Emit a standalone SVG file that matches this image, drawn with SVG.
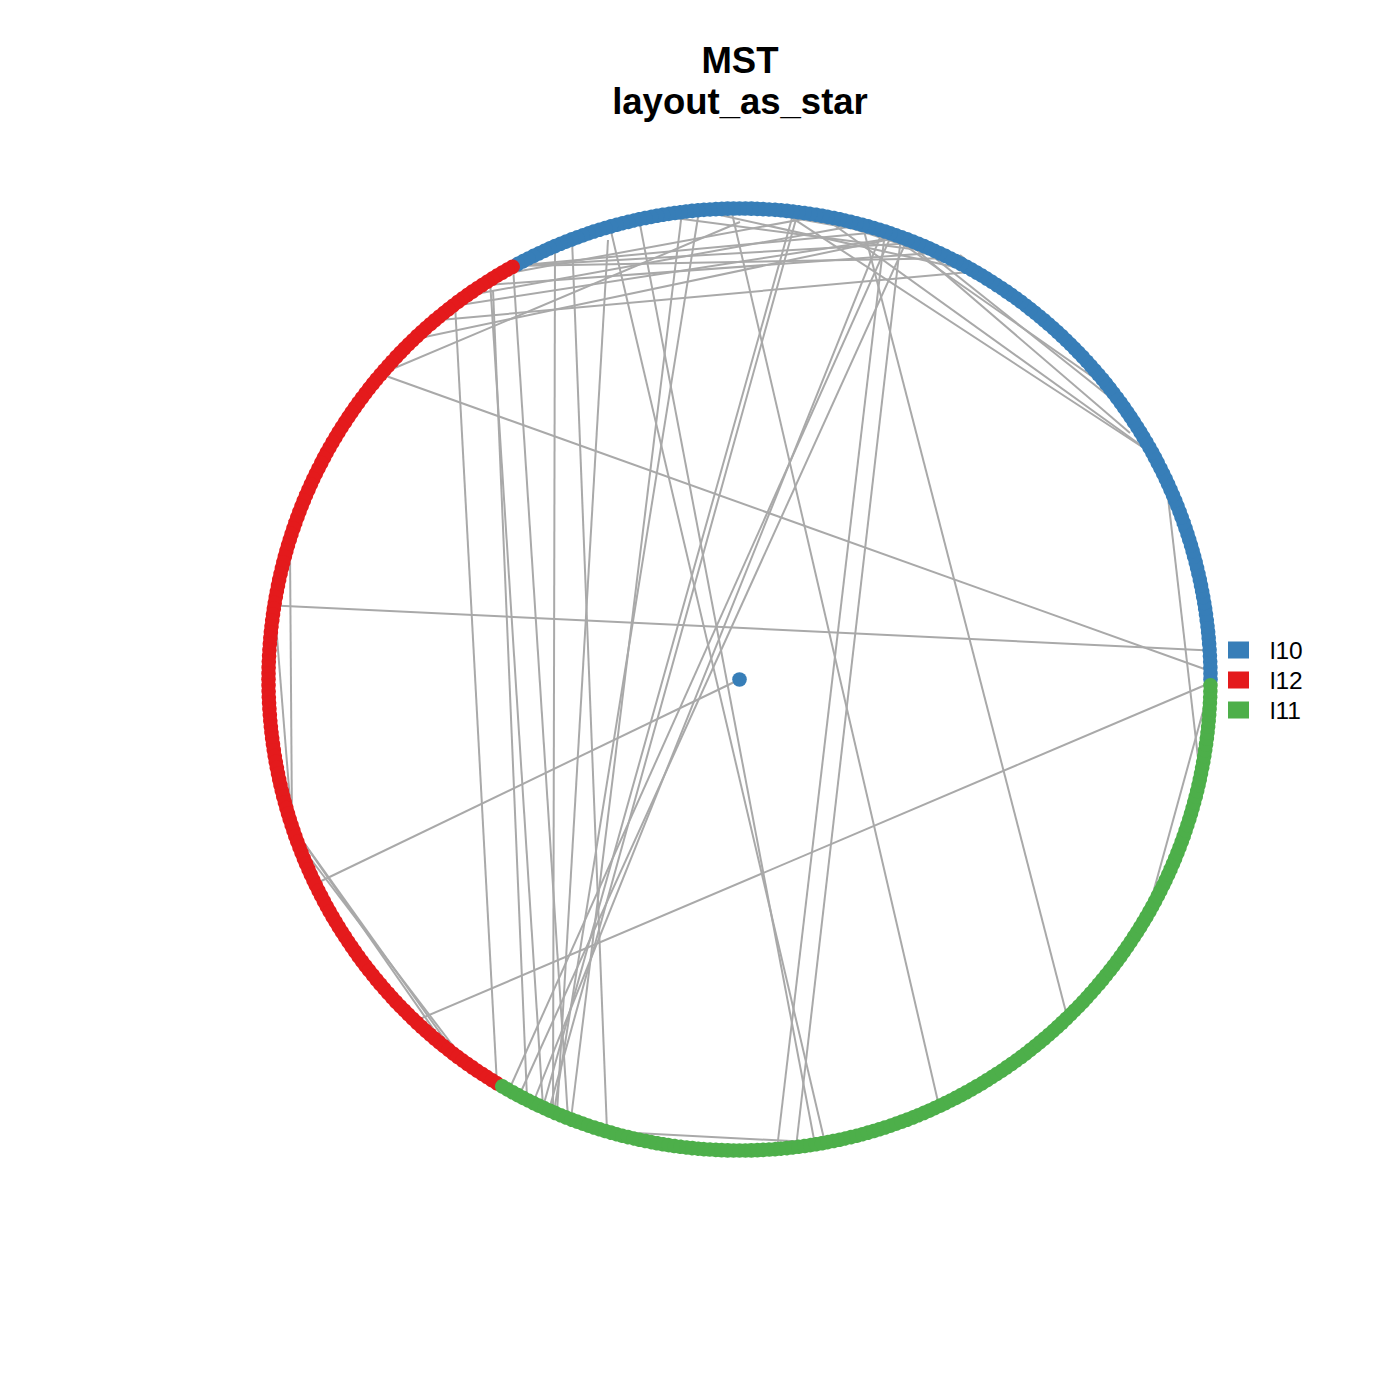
<svg xmlns="http://www.w3.org/2000/svg" xmlns:xlink="http://www.w3.org/1999/xlink" width="1400" height="1400" viewBox="0 0 1400 1400">
<style>
.t{font-family:"Liberation Sans",Arial,sans-serif;font-weight:bold;font-size:36.5px;fill:#000;text-anchor:middle}
.l{font-family:"Liberation Sans",Arial,sans-serif;font-size:24.5px;fill:#000}
#edges line{stroke:#A9A9A9;stroke-width:2;fill:none}
</style>
<defs>
<circle id="B" cx="471" cy="0" r="7.3" fill="#377EB8"/>
<circle id="R" cx="471" cy="0" r="7.3" fill="#E41A1C"/>
<circle id="G" cx="471" cy="0" r="7.3" fill="#4DAF4A"/>
</defs>
<rect width="1400" height="1400" fill="#fff"/>
<text class="t" x="740" y="73">MST</text>
<text class="t" x="740" y="114">layout_as_star</text>
<g id="edges">
<line x1="739.5" y1="679.5" x2="315" y2="884"/>
<line x1="1210" y1="683" x2="415" y2="1021"/>
<line x1="380.5" y1="374" x2="1210" y2="671"/>
<line x1="274.5" y1="605.5" x2="1209.5" y2="650.5"/>
<line x1="1166" y1="480" x2="1200" y2="775"/>
<line x1="1210" y1="686" x2="1147" y2="915"/>
<line x1="731" y1="209" x2="939" y2="1106"/>
<line x1="863" y1="227" x2="1067.5" y2="1018"/>
<line x1="885" y1="232" x2="777" y2="1149"/>
<line x1="901" y1="237" x2="796" y2="1147.5"/>
<line x1="639" y1="219" x2="815" y2="1144.5"/>
<line x1="610" y1="227" x2="825" y2="1143"/>
<line x1="455" y1="304" x2="497" y2="1085"/>
<line x1="607" y1="1131.6" x2="824.5" y2="1142.8"/>
<line x1="572" y1="239" x2="607" y2="1131"/>
<line x1="274.5" y1="605.5" x2="292" y2="826"/>
<line x1="290" y1="550" x2="292" y2="826"/>
<line x1="304" y1="500" x2="274.5" y2="605.5"/>
<line x1="292" y1="826" x2="458" y2="1058"/>
<line x1="292" y1="826" x2="448" y2="1050"/>
<line x1="300" y1="845" x2="466" y2="1063"/>
<line x1="907" y1="240" x2="519" y2="1096"/>
<line x1="892" y1="234" x2="509" y2="1090"/>
<line x1="883" y1="230" x2="533" y2="1103"/>
<line x1="794" y1="211" x2="543" y2="1107"/>
<line x1="798" y1="212" x2="549" y2="1110"/>
<line x1="699" y1="211" x2="554" y2="1112"/>
<line x1="682" y1="212" x2="571" y2="1119"/>
<line x1="490" y1="280" x2="543" y2="1107"/>
<line x1="493" y1="290" x2="527" y2="1098"/>
<line x1="513" y1="266" x2="568" y2="1118"/>
<line x1="608" y1="240" x2="557" y2="1113"/>
<line x1="555" y1="250" x2="553" y2="1111"/>
<line x1="780.6" y1="210.3" x2="1153" y2="454"/>
<line x1="821.3" y1="215.7" x2="1153" y2="454"/>
<line x1="905" y1="240" x2="1130" y2="433"/>
<line x1="960" y1="255" x2="1100" y2="370"/>
<line x1="513" y1="266" x2="960" y2="258"/>
<line x1="460" y1="305" x2="900" y2="237"/>
<line x1="380.5" y1="374" x2="740" y2="222"/>
<line x1="513" y1="266" x2="885" y2="231.5"/>
<line x1="513" y1="266" x2="916" y2="243"/>
<line x1="499" y1="275" x2="821.3" y2="215.7"/>
<line x1="487" y1="285" x2="938.6" y2="252.6"/>
<line x1="470" y1="295" x2="861.4" y2="224.5"/>
<line x1="440" y1="320" x2="975" y2="271.6"/>
<line x1="420" y1="338" x2="900.6" y2="236.9"/>
<line x1="885" y1="231.5" x2="1110.7" y2="389.5"/>
<line x1="916" y1="243" x2="1125.3" y2="409.3"/>
<line x1="657.7" y1="215.7" x2="938.6" y2="252.6"/>
<line x1="698.4" y1="210.3" x2="975" y2="271.6"/>
<line x1="739.5" y1="208.5" x2="900.6" y2="236.9"/>
<line x1="805" y1="213" x2="960.6" y2="263.6"/>
</g>
<g id="nodes" transform="translate(739.5 679.5)">
<g id="v0"><circle cx="0" cy="0" r="7.3" fill="#377EB8"/></g>
<g id="v1"><use href="#B"/></g>
<g id="v2" transform="rotate(-0.72)"><use href="#B"/></g>
<g id="v3" transform="rotate(-1.44)"><use href="#B"/></g>
<g id="v4" transform="rotate(-2.16)"><use href="#B"/></g>
<g id="v5" transform="rotate(-2.88)"><use href="#B"/></g>
<g id="v6" transform="rotate(-3.6)"><use href="#B"/></g>
<g id="v7" transform="rotate(-4.32)"><use href="#B"/></g>
<g id="v8" transform="rotate(-5.04)"><use href="#B"/></g>
<g id="v9" transform="rotate(-5.76)"><use href="#B"/></g>
<g id="v10" transform="rotate(-6.48)"><use href="#B"/></g>
<g id="v11" transform="rotate(-7.2)"><use href="#B"/></g>
<g id="v12" transform="rotate(-7.92)"><use href="#B"/></g>
<g id="v13" transform="rotate(-8.64)"><use href="#B"/></g>
<g id="v14" transform="rotate(-9.36)"><use href="#B"/></g>
<g id="v15" transform="rotate(-10.08)"><use href="#B"/></g>
<g id="v16" transform="rotate(-10.8)"><use href="#B"/></g>
<g id="v17" transform="rotate(-11.52)"><use href="#B"/></g>
<g id="v18" transform="rotate(-12.24)"><use href="#B"/></g>
<g id="v19" transform="rotate(-12.96)"><use href="#B"/></g>
<g id="v20" transform="rotate(-13.68)"><use href="#B"/></g>
<g id="v21" transform="rotate(-14.4)"><use href="#B"/></g>
<g id="v22" transform="rotate(-15.12)"><use href="#B"/></g>
<g id="v23" transform="rotate(-15.84)"><use href="#B"/></g>
<g id="v24" transform="rotate(-16.56)"><use href="#B"/></g>
<g id="v25" transform="rotate(-17.28)"><use href="#B"/></g>
<g id="v26" transform="rotate(-18)"><use href="#B"/></g>
<g id="v27" transform="rotate(-18.72)"><use href="#B"/></g>
<g id="v28" transform="rotate(-19.44)"><use href="#B"/></g>
<g id="v29" transform="rotate(-20.16)"><use href="#B"/></g>
<g id="v30" transform="rotate(-20.88)"><use href="#B"/></g>
<g id="v31" transform="rotate(-21.6)"><use href="#B"/></g>
<g id="v32" transform="rotate(-22.32)"><use href="#B"/></g>
<g id="v33" transform="rotate(-23.04)"><use href="#B"/></g>
<g id="v34" transform="rotate(-23.76)"><use href="#B"/></g>
<g id="v35" transform="rotate(-24.48)"><use href="#B"/></g>
<g id="v36" transform="rotate(-25.2)"><use href="#B"/></g>
<g id="v37" transform="rotate(-25.92)"><use href="#B"/></g>
<g id="v38" transform="rotate(-26.64)"><use href="#B"/></g>
<g id="v39" transform="rotate(-27.36)"><use href="#B"/></g>
<g id="v40" transform="rotate(-28.08)"><use href="#B"/></g>
<g id="v41" transform="rotate(-28.8)"><use href="#B"/></g>
<g id="v42" transform="rotate(-29.52)"><use href="#B"/></g>
<g id="v43" transform="rotate(-30.24)"><use href="#B"/></g>
<g id="v44" transform="rotate(-30.96)"><use href="#B"/></g>
<g id="v45" transform="rotate(-31.68)"><use href="#B"/></g>
<g id="v46" transform="rotate(-32.4)"><use href="#B"/></g>
<g id="v47" transform="rotate(-33.12)"><use href="#B"/></g>
<g id="v48" transform="rotate(-33.84)"><use href="#B"/></g>
<g id="v49" transform="rotate(-34.56)"><use href="#B"/></g>
<g id="v50" transform="rotate(-35.28)"><use href="#B"/></g>
<g id="v51" transform="rotate(-36)"><use href="#B"/></g>
<g id="v52" transform="rotate(-36.72)"><use href="#B"/></g>
<g id="v53" transform="rotate(-37.44)"><use href="#B"/></g>
<g id="v54" transform="rotate(-38.16)"><use href="#B"/></g>
<g id="v55" transform="rotate(-38.88)"><use href="#B"/></g>
<g id="v56" transform="rotate(-39.6)"><use href="#B"/></g>
<g id="v57" transform="rotate(-40.32)"><use href="#B"/></g>
<g id="v58" transform="rotate(-41.04)"><use href="#B"/></g>
<g id="v59" transform="rotate(-41.76)"><use href="#B"/></g>
<g id="v60" transform="rotate(-42.48)"><use href="#B"/></g>
<g id="v61" transform="rotate(-43.2)"><use href="#B"/></g>
<g id="v62" transform="rotate(-43.92)"><use href="#B"/></g>
<g id="v63" transform="rotate(-44.64)"><use href="#B"/></g>
<g id="v64" transform="rotate(-45.36)"><use href="#B"/></g>
<g id="v65" transform="rotate(-46.08)"><use href="#B"/></g>
<g id="v66" transform="rotate(-46.8)"><use href="#B"/></g>
<g id="v67" transform="rotate(-47.52)"><use href="#B"/></g>
<g id="v68" transform="rotate(-48.24)"><use href="#B"/></g>
<g id="v69" transform="rotate(-48.96)"><use href="#B"/></g>
<g id="v70" transform="rotate(-49.68)"><use href="#B"/></g>
<g id="v71" transform="rotate(-50.4)"><use href="#B"/></g>
<g id="v72" transform="rotate(-51.12)"><use href="#B"/></g>
<g id="v73" transform="rotate(-51.84)"><use href="#B"/></g>
<g id="v74" transform="rotate(-52.56)"><use href="#B"/></g>
<g id="v75" transform="rotate(-53.28)"><use href="#B"/></g>
<g id="v76" transform="rotate(-54)"><use href="#B"/></g>
<g id="v77" transform="rotate(-54.72)"><use href="#B"/></g>
<g id="v78" transform="rotate(-55.44)"><use href="#B"/></g>
<g id="v79" transform="rotate(-56.16)"><use href="#B"/></g>
<g id="v80" transform="rotate(-56.88)"><use href="#B"/></g>
<g id="v81" transform="rotate(-57.6)"><use href="#B"/></g>
<g id="v82" transform="rotate(-58.32)"><use href="#B"/></g>
<g id="v83" transform="rotate(-59.04)"><use href="#B"/></g>
<g id="v84" transform="rotate(-59.76)"><use href="#B"/></g>
<g id="v85" transform="rotate(-60.48)"><use href="#B"/></g>
<g id="v86" transform="rotate(-61.2)"><use href="#B"/></g>
<g id="v87" transform="rotate(-61.92)"><use href="#B"/></g>
<g id="v88" transform="rotate(-62.64)"><use href="#B"/></g>
<g id="v89" transform="rotate(-63.36)"><use href="#B"/></g>
<g id="v90" transform="rotate(-64.08)"><use href="#B"/></g>
<g id="v91" transform="rotate(-64.8)"><use href="#B"/></g>
<g id="v92" transform="rotate(-65.52)"><use href="#B"/></g>
<g id="v93" transform="rotate(-66.24)"><use href="#B"/></g>
<g id="v94" transform="rotate(-66.96)"><use href="#B"/></g>
<g id="v95" transform="rotate(-67.68)"><use href="#B"/></g>
<g id="v96" transform="rotate(-68.4)"><use href="#B"/></g>
<g id="v97" transform="rotate(-69.12)"><use href="#B"/></g>
<g id="v98" transform="rotate(-69.84)"><use href="#B"/></g>
<g id="v99" transform="rotate(-70.56)"><use href="#B"/></g>
<g id="v100" transform="rotate(-71.28)"><use href="#B"/></g>
<g id="v101" transform="rotate(-72)"><use href="#B"/></g>
<g id="v102" transform="rotate(-72.72)"><use href="#B"/></g>
<g id="v103" transform="rotate(-73.44)"><use href="#B"/></g>
<g id="v104" transform="rotate(-74.16)"><use href="#B"/></g>
<g id="v105" transform="rotate(-74.88)"><use href="#B"/></g>
<g id="v106" transform="rotate(-75.6)"><use href="#B"/></g>
<g id="v107" transform="rotate(-76.32)"><use href="#B"/></g>
<g id="v108" transform="rotate(-77.04)"><use href="#B"/></g>
<g id="v109" transform="rotate(-77.76)"><use href="#B"/></g>
<g id="v110" transform="rotate(-78.48)"><use href="#B"/></g>
<g id="v111" transform="rotate(-79.2)"><use href="#B"/></g>
<g id="v112" transform="rotate(-79.92)"><use href="#B"/></g>
<g id="v113" transform="rotate(-80.64)"><use href="#B"/></g>
<g id="v114" transform="rotate(-81.36)"><use href="#B"/></g>
<g id="v115" transform="rotate(-82.08)"><use href="#B"/></g>
<g id="v116" transform="rotate(-82.8)"><use href="#B"/></g>
<g id="v117" transform="rotate(-83.52)"><use href="#B"/></g>
<g id="v118" transform="rotate(-84.24)"><use href="#B"/></g>
<g id="v119" transform="rotate(-84.96)"><use href="#B"/></g>
<g id="v120" transform="rotate(-85.68)"><use href="#B"/></g>
<g id="v121" transform="rotate(-86.4)"><use href="#B"/></g>
<g id="v122" transform="rotate(-87.12)"><use href="#B"/></g>
<g id="v123" transform="rotate(-87.84)"><use href="#B"/></g>
<g id="v124" transform="rotate(-88.56)"><use href="#B"/></g>
<g id="v125" transform="rotate(-89.28)"><use href="#B"/></g>
<g id="v126" transform="rotate(-90)"><use href="#B"/></g>
<g id="v127" transform="rotate(-90.72)"><use href="#B"/></g>
<g id="v128" transform="rotate(-91.44)"><use href="#B"/></g>
<g id="v129" transform="rotate(-92.16)"><use href="#B"/></g>
<g id="v130" transform="rotate(-92.88)"><use href="#B"/></g>
<g id="v131" transform="rotate(-93.6)"><use href="#B"/></g>
<g id="v132" transform="rotate(-94.32)"><use href="#B"/></g>
<g id="v133" transform="rotate(-95.04)"><use href="#B"/></g>
<g id="v134" transform="rotate(-95.76)"><use href="#B"/></g>
<g id="v135" transform="rotate(-96.48)"><use href="#B"/></g>
<g id="v136" transform="rotate(-97.2)"><use href="#B"/></g>
<g id="v137" transform="rotate(-97.92)"><use href="#B"/></g>
<g id="v138" transform="rotate(-98.64)"><use href="#B"/></g>
<g id="v139" transform="rotate(-99.36)"><use href="#B"/></g>
<g id="v140" transform="rotate(-100.08)"><use href="#B"/></g>
<g id="v141" transform="rotate(-100.8)"><use href="#B"/></g>
<g id="v142" transform="rotate(-101.52)"><use href="#B"/></g>
<g id="v143" transform="rotate(-102.24)"><use href="#B"/></g>
<g id="v144" transform="rotate(-102.96)"><use href="#B"/></g>
<g id="v145" transform="rotate(-103.68)"><use href="#B"/></g>
<g id="v146" transform="rotate(-104.4)"><use href="#B"/></g>
<g id="v147" transform="rotate(-105.12)"><use href="#B"/></g>
<g id="v148" transform="rotate(-105.84)"><use href="#B"/></g>
<g id="v149" transform="rotate(-106.56)"><use href="#B"/></g>
<g id="v150" transform="rotate(-107.28)"><use href="#B"/></g>
<g id="v151" transform="rotate(-108)"><use href="#B"/></g>
<g id="v152" transform="rotate(-108.72)"><use href="#B"/></g>
<g id="v153" transform="rotate(-109.44)"><use href="#B"/></g>
<g id="v154" transform="rotate(-110.16)"><use href="#B"/></g>
<g id="v155" transform="rotate(-110.88)"><use href="#B"/></g>
<g id="v156" transform="rotate(-111.6)"><use href="#B"/></g>
<g id="v157" transform="rotate(-112.32)"><use href="#B"/></g>
<g id="v158" transform="rotate(-113.04)"><use href="#B"/></g>
<g id="v159" transform="rotate(-113.76)"><use href="#B"/></g>
<g id="v160" transform="rotate(-114.48)"><use href="#B"/></g>
<g id="v161" transform="rotate(-115.2)"><use href="#B"/></g>
<g id="v162" transform="rotate(-115.92)"><use href="#B"/></g>
<g id="v163" transform="rotate(-116.64)"><use href="#B"/></g>
<g id="v164" transform="rotate(-117.36)"><use href="#B"/></g>
<g id="v165" transform="rotate(-118.08)"><use href="#B"/></g>
<g id="v166" transform="rotate(-118.8)"><use href="#R"/></g>
<g id="v167" transform="rotate(-119.52)"><use href="#R"/></g>
<g id="v168" transform="rotate(-120.24)"><use href="#R"/></g>
<g id="v169" transform="rotate(-120.96)"><use href="#R"/></g>
<g id="v170" transform="rotate(-121.68)"><use href="#R"/></g>
<g id="v171" transform="rotate(-122.4)"><use href="#R"/></g>
<g id="v172" transform="rotate(-123.12)"><use href="#R"/></g>
<g id="v173" transform="rotate(-123.84)"><use href="#R"/></g>
<g id="v174" transform="rotate(-124.56)"><use href="#R"/></g>
<g id="v175" transform="rotate(-125.28)"><use href="#R"/></g>
<g id="v176" transform="rotate(-126)"><use href="#R"/></g>
<g id="v177" transform="rotate(-126.72)"><use href="#R"/></g>
<g id="v178" transform="rotate(-127.44)"><use href="#R"/></g>
<g id="v179" transform="rotate(-128.16)"><use href="#R"/></g>
<g id="v180" transform="rotate(-128.88)"><use href="#R"/></g>
<g id="v181" transform="rotate(-129.6)"><use href="#R"/></g>
<g id="v182" transform="rotate(-130.32)"><use href="#R"/></g>
<g id="v183" transform="rotate(-131.04)"><use href="#R"/></g>
<g id="v184" transform="rotate(-131.76)"><use href="#R"/></g>
<g id="v185" transform="rotate(-132.48)"><use href="#R"/></g>
<g id="v186" transform="rotate(-133.2)"><use href="#R"/></g>
<g id="v187" transform="rotate(-133.92)"><use href="#R"/></g>
<g id="v188" transform="rotate(-134.64)"><use href="#R"/></g>
<g id="v189" transform="rotate(-135.36)"><use href="#R"/></g>
<g id="v190" transform="rotate(-136.08)"><use href="#R"/></g>
<g id="v191" transform="rotate(-136.8)"><use href="#R"/></g>
<g id="v192" transform="rotate(-137.52)"><use href="#R"/></g>
<g id="v193" transform="rotate(-138.24)"><use href="#R"/></g>
<g id="v194" transform="rotate(-138.96)"><use href="#R"/></g>
<g id="v195" transform="rotate(-139.68)"><use href="#R"/></g>
<g id="v196" transform="rotate(-140.4)"><use href="#R"/></g>
<g id="v197" transform="rotate(-141.12)"><use href="#R"/></g>
<g id="v198" transform="rotate(-141.84)"><use href="#R"/></g>
<g id="v199" transform="rotate(-142.56)"><use href="#R"/></g>
<g id="v200" transform="rotate(-143.28)"><use href="#R"/></g>
<g id="v201" transform="rotate(-144)"><use href="#R"/></g>
<g id="v202" transform="rotate(-144.72)"><use href="#R"/></g>
<g id="v203" transform="rotate(-145.44)"><use href="#R"/></g>
<g id="v204" transform="rotate(-146.16)"><use href="#R"/></g>
<g id="v205" transform="rotate(-146.88)"><use href="#R"/></g>
<g id="v206" transform="rotate(-147.6)"><use href="#R"/></g>
<g id="v207" transform="rotate(-148.32)"><use href="#R"/></g>
<g id="v208" transform="rotate(-149.04)"><use href="#R"/></g>
<g id="v209" transform="rotate(-149.76)"><use href="#R"/></g>
<g id="v210" transform="rotate(-150.48)"><use href="#R"/></g>
<g id="v211" transform="rotate(-151.2)"><use href="#R"/></g>
<g id="v212" transform="rotate(-151.92)"><use href="#R"/></g>
<g id="v213" transform="rotate(-152.64)"><use href="#R"/></g>
<g id="v214" transform="rotate(-153.36)"><use href="#R"/></g>
<g id="v215" transform="rotate(-154.08)"><use href="#R"/></g>
<g id="v216" transform="rotate(-154.8)"><use href="#R"/></g>
<g id="v217" transform="rotate(-155.52)"><use href="#R"/></g>
<g id="v218" transform="rotate(-156.24)"><use href="#R"/></g>
<g id="v219" transform="rotate(-156.96)"><use href="#R"/></g>
<g id="v220" transform="rotate(-157.68)"><use href="#R"/></g>
<g id="v221" transform="rotate(-158.4)"><use href="#R"/></g>
<g id="v222" transform="rotate(-159.12)"><use href="#R"/></g>
<g id="v223" transform="rotate(-159.84)"><use href="#R"/></g>
<g id="v224" transform="rotate(-160.56)"><use href="#R"/></g>
<g id="v225" transform="rotate(-161.28)"><use href="#R"/></g>
<g id="v226" transform="rotate(-162)"><use href="#R"/></g>
<g id="v227" transform="rotate(-162.72)"><use href="#R"/></g>
<g id="v228" transform="rotate(-163.44)"><use href="#R"/></g>
<g id="v229" transform="rotate(-164.16)"><use href="#R"/></g>
<g id="v230" transform="rotate(-164.88)"><use href="#R"/></g>
<g id="v231" transform="rotate(-165.6)"><use href="#R"/></g>
<g id="v232" transform="rotate(-166.32)"><use href="#R"/></g>
<g id="v233" transform="rotate(-167.04)"><use href="#R"/></g>
<g id="v234" transform="rotate(-167.76)"><use href="#R"/></g>
<g id="v235" transform="rotate(-168.48)"><use href="#R"/></g>
<g id="v236" transform="rotate(-169.2)"><use href="#R"/></g>
<g id="v237" transform="rotate(-169.92)"><use href="#R"/></g>
<g id="v238" transform="rotate(-170.64)"><use href="#R"/></g>
<g id="v239" transform="rotate(-171.36)"><use href="#R"/></g>
<g id="v240" transform="rotate(-172.08)"><use href="#R"/></g>
<g id="v241" transform="rotate(-172.8)"><use href="#R"/></g>
<g id="v242" transform="rotate(-173.52)"><use href="#R"/></g>
<g id="v243" transform="rotate(-174.24)"><use href="#R"/></g>
<g id="v244" transform="rotate(-174.96)"><use href="#R"/></g>
<g id="v245" transform="rotate(-175.68)"><use href="#R"/></g>
<g id="v246" transform="rotate(-176.4)"><use href="#R"/></g>
<g id="v247" transform="rotate(-177.12)"><use href="#R"/></g>
<g id="v248" transform="rotate(-177.84)"><use href="#R"/></g>
<g id="v249" transform="rotate(-178.56)"><use href="#R"/></g>
<g id="v250" transform="rotate(-179.28)"><use href="#R"/></g>
<g id="v251" transform="rotate(-180)"><use href="#R"/></g>
<g id="v252" transform="rotate(-180.72)"><use href="#R"/></g>
<g id="v253" transform="rotate(-181.44)"><use href="#R"/></g>
<g id="v254" transform="rotate(-182.16)"><use href="#R"/></g>
<g id="v255" transform="rotate(-182.88)"><use href="#R"/></g>
<g id="v256" transform="rotate(-183.6)"><use href="#R"/></g>
<g id="v257" transform="rotate(-184.32)"><use href="#R"/></g>
<g id="v258" transform="rotate(-185.04)"><use href="#R"/></g>
<g id="v259" transform="rotate(-185.76)"><use href="#R"/></g>
<g id="v260" transform="rotate(-186.48)"><use href="#R"/></g>
<g id="v261" transform="rotate(-187.2)"><use href="#R"/></g>
<g id="v262" transform="rotate(-187.92)"><use href="#R"/></g>
<g id="v263" transform="rotate(-188.64)"><use href="#R"/></g>
<g id="v264" transform="rotate(-189.36)"><use href="#R"/></g>
<g id="v265" transform="rotate(-190.08)"><use href="#R"/></g>
<g id="v266" transform="rotate(-190.8)"><use href="#R"/></g>
<g id="v267" transform="rotate(-191.52)"><use href="#R"/></g>
<g id="v268" transform="rotate(-192.24)"><use href="#R"/></g>
<g id="v269" transform="rotate(-192.96)"><use href="#R"/></g>
<g id="v270" transform="rotate(-193.68)"><use href="#R"/></g>
<g id="v271" transform="rotate(-194.4)"><use href="#R"/></g>
<g id="v272" transform="rotate(-195.12)"><use href="#R"/></g>
<g id="v273" transform="rotate(-195.84)"><use href="#R"/></g>
<g id="v274" transform="rotate(-196.56)"><use href="#R"/></g>
<g id="v275" transform="rotate(-197.28)"><use href="#R"/></g>
<g id="v276" transform="rotate(-198)"><use href="#R"/></g>
<g id="v277" transform="rotate(-198.72)"><use href="#R"/></g>
<g id="v278" transform="rotate(-199.44)"><use href="#R"/></g>
<g id="v279" transform="rotate(-200.16)"><use href="#R"/></g>
<g id="v280" transform="rotate(-200.88)"><use href="#R"/></g>
<g id="v281" transform="rotate(-201.6)"><use href="#R"/></g>
<g id="v282" transform="rotate(-202.32)"><use href="#R"/></g>
<g id="v283" transform="rotate(-203.04)"><use href="#R"/></g>
<g id="v284" transform="rotate(-203.76)"><use href="#R"/></g>
<g id="v285" transform="rotate(-204.48)"><use href="#R"/></g>
<g id="v286" transform="rotate(-205.2)"><use href="#R"/></g>
<g id="v287" transform="rotate(-205.92)"><use href="#R"/></g>
<g id="v288" transform="rotate(-206.64)"><use href="#R"/></g>
<g id="v289" transform="rotate(-207.36)"><use href="#R"/></g>
<g id="v290" transform="rotate(-208.08)"><use href="#R"/></g>
<g id="v291" transform="rotate(-208.8)"><use href="#R"/></g>
<g id="v292" transform="rotate(-209.52)"><use href="#R"/></g>
<g id="v293" transform="rotate(-210.24)"><use href="#R"/></g>
<g id="v294" transform="rotate(-210.96)"><use href="#R"/></g>
<g id="v295" transform="rotate(-211.68)"><use href="#R"/></g>
<g id="v296" transform="rotate(-212.4)"><use href="#R"/></g>
<g id="v297" transform="rotate(-213.12)"><use href="#R"/></g>
<g id="v298" transform="rotate(-213.84)"><use href="#R"/></g>
<g id="v299" transform="rotate(-214.56)"><use href="#R"/></g>
<g id="v300" transform="rotate(-215.28)"><use href="#R"/></g>
<g id="v301" transform="rotate(-216)"><use href="#R"/></g>
<g id="v302" transform="rotate(-216.72)"><use href="#R"/></g>
<g id="v303" transform="rotate(-217.44)"><use href="#R"/></g>
<g id="v304" transform="rotate(-218.16)"><use href="#R"/></g>
<g id="v305" transform="rotate(-218.88)"><use href="#R"/></g>
<g id="v306" transform="rotate(-219.6)"><use href="#R"/></g>
<g id="v307" transform="rotate(-220.32)"><use href="#R"/></g>
<g id="v308" transform="rotate(-221.04)"><use href="#R"/></g>
<g id="v309" transform="rotate(-221.76)"><use href="#R"/></g>
<g id="v310" transform="rotate(-222.48)"><use href="#R"/></g>
<g id="v311" transform="rotate(-223.2)"><use href="#R"/></g>
<g id="v312" transform="rotate(-223.92)"><use href="#R"/></g>
<g id="v313" transform="rotate(-224.64)"><use href="#R"/></g>
<g id="v314" transform="rotate(-225.36)"><use href="#R"/></g>
<g id="v315" transform="rotate(-226.08)"><use href="#R"/></g>
<g id="v316" transform="rotate(-226.8)"><use href="#R"/></g>
<g id="v317" transform="rotate(-227.52)"><use href="#R"/></g>
<g id="v318" transform="rotate(-228.24)"><use href="#R"/></g>
<g id="v319" transform="rotate(-228.96)"><use href="#R"/></g>
<g id="v320" transform="rotate(-229.68)"><use href="#R"/></g>
<g id="v321" transform="rotate(-230.4)"><use href="#R"/></g>
<g id="v322" transform="rotate(-231.12)"><use href="#R"/></g>
<g id="v323" transform="rotate(-231.84)"><use href="#R"/></g>
<g id="v324" transform="rotate(-232.56)"><use href="#R"/></g>
<g id="v325" transform="rotate(-233.28)"><use href="#R"/></g>
<g id="v326" transform="rotate(-234)"><use href="#R"/></g>
<g id="v327" transform="rotate(-234.72)"><use href="#R"/></g>
<g id="v328" transform="rotate(-235.44)"><use href="#R"/></g>
<g id="v329" transform="rotate(-236.16)"><use href="#R"/></g>
<g id="v330" transform="rotate(-236.88)"><use href="#R"/></g>
<g id="v331" transform="rotate(-237.6)"><use href="#R"/></g>
<g id="v332" transform="rotate(-238.32)"><use href="#R"/></g>
<g id="v333" transform="rotate(-239.04)"><use href="#R"/></g>
<g id="v334" transform="rotate(-239.76)"><use href="#G"/></g>
<g id="v335" transform="rotate(-240.48)"><use href="#G"/></g>
<g id="v336" transform="rotate(-241.2)"><use href="#G"/></g>
<g id="v337" transform="rotate(-241.92)"><use href="#G"/></g>
<g id="v338" transform="rotate(-242.64)"><use href="#G"/></g>
<g id="v339" transform="rotate(-243.36)"><use href="#G"/></g>
<g id="v340" transform="rotate(-244.08)"><use href="#G"/></g>
<g id="v341" transform="rotate(-244.8)"><use href="#G"/></g>
<g id="v342" transform="rotate(-245.52)"><use href="#G"/></g>
<g id="v343" transform="rotate(-246.24)"><use href="#G"/></g>
<g id="v344" transform="rotate(-246.96)"><use href="#G"/></g>
<g id="v345" transform="rotate(-247.68)"><use href="#G"/></g>
<g id="v346" transform="rotate(-248.4)"><use href="#G"/></g>
<g id="v347" transform="rotate(-249.12)"><use href="#G"/></g>
<g id="v348" transform="rotate(-249.84)"><use href="#G"/></g>
<g id="v349" transform="rotate(-250.56)"><use href="#G"/></g>
<g id="v350" transform="rotate(-251.28)"><use href="#G"/></g>
<g id="v351" transform="rotate(-252)"><use href="#G"/></g>
<g id="v352" transform="rotate(-252.72)"><use href="#G"/></g>
<g id="v353" transform="rotate(-253.44)"><use href="#G"/></g>
<g id="v354" transform="rotate(-254.16)"><use href="#G"/></g>
<g id="v355" transform="rotate(-254.88)"><use href="#G"/></g>
<g id="v356" transform="rotate(-255.6)"><use href="#G"/></g>
<g id="v357" transform="rotate(-256.32)"><use href="#G"/></g>
<g id="v358" transform="rotate(-257.04)"><use href="#G"/></g>
<g id="v359" transform="rotate(-257.76)"><use href="#G"/></g>
<g id="v360" transform="rotate(-258.48)"><use href="#G"/></g>
<g id="v361" transform="rotate(-259.2)"><use href="#G"/></g>
<g id="v362" transform="rotate(-259.92)"><use href="#G"/></g>
<g id="v363" transform="rotate(-260.64)"><use href="#G"/></g>
<g id="v364" transform="rotate(-261.36)"><use href="#G"/></g>
<g id="v365" transform="rotate(-262.08)"><use href="#G"/></g>
<g id="v366" transform="rotate(-262.8)"><use href="#G"/></g>
<g id="v367" transform="rotate(-263.52)"><use href="#G"/></g>
<g id="v368" transform="rotate(-264.24)"><use href="#G"/></g>
<g id="v369" transform="rotate(-264.96)"><use href="#G"/></g>
<g id="v370" transform="rotate(-265.68)"><use href="#G"/></g>
<g id="v371" transform="rotate(-266.4)"><use href="#G"/></g>
<g id="v372" transform="rotate(-267.12)"><use href="#G"/></g>
<g id="v373" transform="rotate(-267.84)"><use href="#G"/></g>
<g id="v374" transform="rotate(-268.56)"><use href="#G"/></g>
<g id="v375" transform="rotate(-269.28)"><use href="#G"/></g>
<g id="v376" transform="rotate(-270)"><use href="#G"/></g>
<g id="v377" transform="rotate(-270.72)"><use href="#G"/></g>
<g id="v378" transform="rotate(-271.44)"><use href="#G"/></g>
<g id="v379" transform="rotate(-272.16)"><use href="#G"/></g>
<g id="v380" transform="rotate(-272.88)"><use href="#G"/></g>
<g id="v381" transform="rotate(-273.6)"><use href="#G"/></g>
<g id="v382" transform="rotate(-274.32)"><use href="#G"/></g>
<g id="v383" transform="rotate(-275.04)"><use href="#G"/></g>
<g id="v384" transform="rotate(-275.76)"><use href="#G"/></g>
<g id="v385" transform="rotate(-276.48)"><use href="#G"/></g>
<g id="v386" transform="rotate(-277.2)"><use href="#G"/></g>
<g id="v387" transform="rotate(-277.92)"><use href="#G"/></g>
<g id="v388" transform="rotate(-278.64)"><use href="#G"/></g>
<g id="v389" transform="rotate(-279.36)"><use href="#G"/></g>
<g id="v390" transform="rotate(-280.08)"><use href="#G"/></g>
<g id="v391" transform="rotate(-280.8)"><use href="#G"/></g>
<g id="v392" transform="rotate(-281.52)"><use href="#G"/></g>
<g id="v393" transform="rotate(-282.24)"><use href="#G"/></g>
<g id="v394" transform="rotate(-282.96)"><use href="#G"/></g>
<g id="v395" transform="rotate(-283.68)"><use href="#G"/></g>
<g id="v396" transform="rotate(-284.4)"><use href="#G"/></g>
<g id="v397" transform="rotate(-285.12)"><use href="#G"/></g>
<g id="v398" transform="rotate(-285.84)"><use href="#G"/></g>
<g id="v399" transform="rotate(-286.56)"><use href="#G"/></g>
<g id="v400" transform="rotate(-287.28)"><use href="#G"/></g>
<g id="v401" transform="rotate(-288)"><use href="#G"/></g>
<g id="v402" transform="rotate(-288.72)"><use href="#G"/></g>
<g id="v403" transform="rotate(-289.44)"><use href="#G"/></g>
<g id="v404" transform="rotate(-290.16)"><use href="#G"/></g>
<g id="v405" transform="rotate(-290.88)"><use href="#G"/></g>
<g id="v406" transform="rotate(-291.6)"><use href="#G"/></g>
<g id="v407" transform="rotate(-292.32)"><use href="#G"/></g>
<g id="v408" transform="rotate(-293.04)"><use href="#G"/></g>
<g id="v409" transform="rotate(-293.76)"><use href="#G"/></g>
<g id="v410" transform="rotate(-294.48)"><use href="#G"/></g>
<g id="v411" transform="rotate(-295.2)"><use href="#G"/></g>
<g id="v412" transform="rotate(-295.92)"><use href="#G"/></g>
<g id="v413" transform="rotate(-296.64)"><use href="#G"/></g>
<g id="v414" transform="rotate(-297.36)"><use href="#G"/></g>
<g id="v415" transform="rotate(-298.08)"><use href="#G"/></g>
<g id="v416" transform="rotate(-298.8)"><use href="#G"/></g>
<g id="v417" transform="rotate(-299.52)"><use href="#G"/></g>
<g id="v418" transform="rotate(-300.24)"><use href="#G"/></g>
<g id="v419" transform="rotate(-300.96)"><use href="#G"/></g>
<g id="v420" transform="rotate(-301.68)"><use href="#G"/></g>
<g id="v421" transform="rotate(-302.4)"><use href="#G"/></g>
<g id="v422" transform="rotate(-303.12)"><use href="#G"/></g>
<g id="v423" transform="rotate(-303.84)"><use href="#G"/></g>
<g id="v424" transform="rotate(-304.56)"><use href="#G"/></g>
<g id="v425" transform="rotate(-305.28)"><use href="#G"/></g>
<g id="v426" transform="rotate(-306)"><use href="#G"/></g>
<g id="v427" transform="rotate(-306.72)"><use href="#G"/></g>
<g id="v428" transform="rotate(-307.44)"><use href="#G"/></g>
<g id="v429" transform="rotate(-308.16)"><use href="#G"/></g>
<g id="v430" transform="rotate(-308.88)"><use href="#G"/></g>
<g id="v431" transform="rotate(-309.6)"><use href="#G"/></g>
<g id="v432" transform="rotate(-310.32)"><use href="#G"/></g>
<g id="v433" transform="rotate(-311.04)"><use href="#G"/></g>
<g id="v434" transform="rotate(-311.76)"><use href="#G"/></g>
<g id="v435" transform="rotate(-312.48)"><use href="#G"/></g>
<g id="v436" transform="rotate(-313.2)"><use href="#G"/></g>
<g id="v437" transform="rotate(-313.92)"><use href="#G"/></g>
<g id="v438" transform="rotate(-314.64)"><use href="#G"/></g>
<g id="v439" transform="rotate(-315.36)"><use href="#G"/></g>
<g id="v440" transform="rotate(-316.08)"><use href="#G"/></g>
<g id="v441" transform="rotate(-316.8)"><use href="#G"/></g>
<g id="v442" transform="rotate(-317.52)"><use href="#G"/></g>
<g id="v443" transform="rotate(-318.24)"><use href="#G"/></g>
<g id="v444" transform="rotate(-318.96)"><use href="#G"/></g>
<g id="v445" transform="rotate(-319.68)"><use href="#G"/></g>
<g id="v446" transform="rotate(-320.4)"><use href="#G"/></g>
<g id="v447" transform="rotate(-321.12)"><use href="#G"/></g>
<g id="v448" transform="rotate(-321.84)"><use href="#G"/></g>
<g id="v449" transform="rotate(-322.56)"><use href="#G"/></g>
<g id="v450" transform="rotate(-323.28)"><use href="#G"/></g>
<g id="v451" transform="rotate(-324)"><use href="#G"/></g>
<g id="v452" transform="rotate(-324.72)"><use href="#G"/></g>
<g id="v453" transform="rotate(-325.44)"><use href="#G"/></g>
<g id="v454" transform="rotate(-326.16)"><use href="#G"/></g>
<g id="v455" transform="rotate(-326.88)"><use href="#G"/></g>
<g id="v456" transform="rotate(-327.6)"><use href="#G"/></g>
<g id="v457" transform="rotate(-328.32)"><use href="#G"/></g>
<g id="v458" transform="rotate(-329.04)"><use href="#G"/></g>
<g id="v459" transform="rotate(-329.76)"><use href="#G"/></g>
<g id="v460" transform="rotate(-330.48)"><use href="#G"/></g>
<g id="v461" transform="rotate(-331.2)"><use href="#G"/></g>
<g id="v462" transform="rotate(-331.92)"><use href="#G"/></g>
<g id="v463" transform="rotate(-332.64)"><use href="#G"/></g>
<g id="v464" transform="rotate(-333.36)"><use href="#G"/></g>
<g id="v465" transform="rotate(-334.08)"><use href="#G"/></g>
<g id="v466" transform="rotate(-334.8)"><use href="#G"/></g>
<g id="v467" transform="rotate(-335.52)"><use href="#G"/></g>
<g id="v468" transform="rotate(-336.24)"><use href="#G"/></g>
<g id="v469" transform="rotate(-336.96)"><use href="#G"/></g>
<g id="v470" transform="rotate(-337.68)"><use href="#G"/></g>
<g id="v471" transform="rotate(-338.4)"><use href="#G"/></g>
<g id="v472" transform="rotate(-339.12)"><use href="#G"/></g>
<g id="v473" transform="rotate(-339.84)"><use href="#G"/></g>
<g id="v474" transform="rotate(-340.56)"><use href="#G"/></g>
<g id="v475" transform="rotate(-341.28)"><use href="#G"/></g>
<g id="v476" transform="rotate(-342)"><use href="#G"/></g>
<g id="v477" transform="rotate(-342.72)"><use href="#G"/></g>
<g id="v478" transform="rotate(-343.44)"><use href="#G"/></g>
<g id="v479" transform="rotate(-344.16)"><use href="#G"/></g>
<g id="v480" transform="rotate(-344.88)"><use href="#G"/></g>
<g id="v481" transform="rotate(-345.6)"><use href="#G"/></g>
<g id="v482" transform="rotate(-346.32)"><use href="#G"/></g>
<g id="v483" transform="rotate(-347.04)"><use href="#G"/></g>
<g id="v484" transform="rotate(-347.76)"><use href="#G"/></g>
<g id="v485" transform="rotate(-348.48)"><use href="#G"/></g>
<g id="v486" transform="rotate(-349.2)"><use href="#G"/></g>
<g id="v487" transform="rotate(-349.92)"><use href="#G"/></g>
<g id="v488" transform="rotate(-350.64)"><use href="#G"/></g>
<g id="v489" transform="rotate(-351.36)"><use href="#G"/></g>
<g id="v490" transform="rotate(-352.08)"><use href="#G"/></g>
<g id="v491" transform="rotate(-352.8)"><use href="#G"/></g>
<g id="v492" transform="rotate(-353.52)"><use href="#G"/></g>
<g id="v493" transform="rotate(-354.24)"><use href="#G"/></g>
<g id="v494" transform="rotate(-354.96)"><use href="#G"/></g>
<g id="v495" transform="rotate(-355.68)"><use href="#G"/></g>
<g id="v496" transform="rotate(-356.4)"><use href="#G"/></g>
<g id="v497" transform="rotate(-357.12)"><use href="#G"/></g>
<g id="v498" transform="rotate(-357.84)"><use href="#G"/></g>
<g id="v499" transform="rotate(-358.56)"><use href="#G"/></g>
<g id="v500" transform="rotate(-359.28)"><use href="#G"/></g>
</g>
<g id="legend">
<rect x="1228" y="641.5" width="21" height="17" fill="#377EB8"/>
<rect x="1228" y="671.5" width="21" height="17" fill="#E41A1C"/>
<rect x="1228" y="701.5" width="21" height="17" fill="#4DAF4A"/>
<text class="l" x="1270" y="658.5">l10</text>
<text class="l" x="1270" y="688.5">l12</text>
<text class="l" x="1270" y="718.5">l11</text>
</g>
</svg>
